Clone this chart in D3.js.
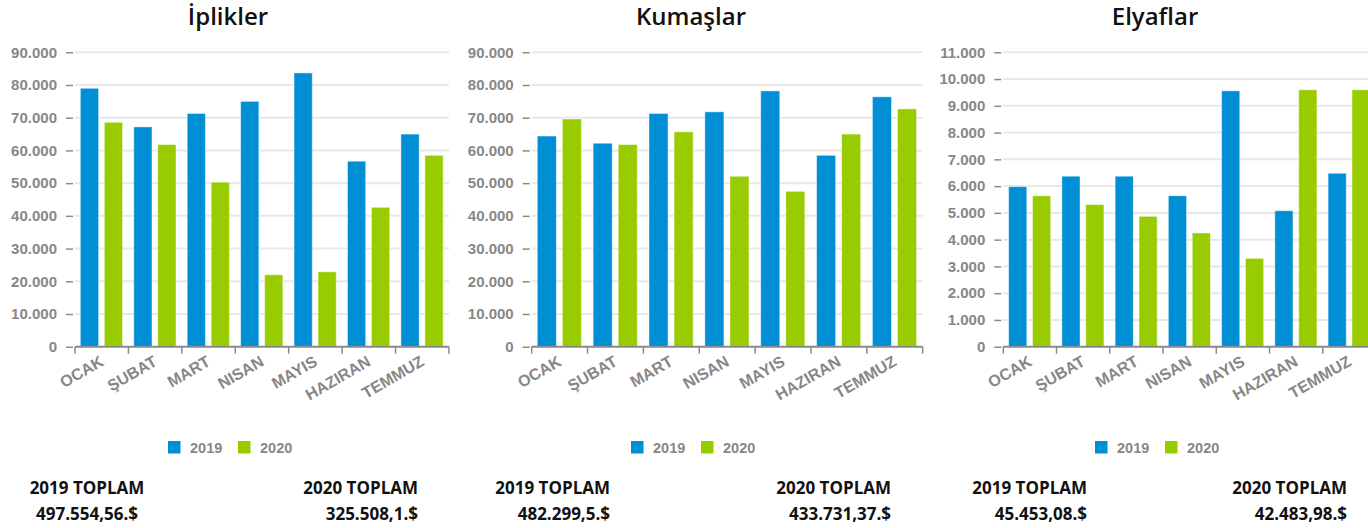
<!DOCTYPE html>
<html>
<head>
<meta charset="utf-8">
<script src="https://cdn.jsdelivr.net/npm/d3@7"></script>
<style>
  body { margin: 0; background: #fff; overflow: hidden; }
  svg { display: block; }
  .title { font-family: "Open Sans", sans-serif; font-size: 24px; font-weight: 600; fill: #111; }
  .tick text { font-family: "Liberation Sans", Arial, sans-serif; font-weight: bold; font-size: 15px; fill: #878787; }
  .legend text { font-family: "Liberation Sans", Arial, sans-serif; font-weight: bold; font-size: 14.5px; fill: #878787; }
  .total { font-family: "Open Sans", sans-serif; font-weight: 700; font-size: 17px; fill: #111; }
</style>
</head>
<body>
<svg id="chart" width="1368" height="528"></svg>
<script>
const months = ["OCAK", "ŞUBAT", "MART", "NISAN", "MAYIS", "HAZIRAN", "TEMMUZ"];
const years = ["2019", "2020"];

const iplikler2019 = [79000, 67200, 71300, 75000, 83700, 56700, 65000];
const iplikler2020 = [68600, 61800, 50300, 22000, 22900, 42600, 58500];
const kumaslar2019 = [64400, 62200, 71300, 71800, 78200, 58500, 76400];
const kumaslar2020 = [69600, 61800, 65700, 52100, 47500, 65000, 72700];
const elyaflar2019 = [5980, 6370, 6370, 5640, 9560, 5080, 6480];
const elyaflar2020 = [5640, 5310, 4870, 4250, 3300, 9600, 9600];

const titles = ["İplikler", "Kumaşlar", "Elyaflar"];
const yMax = [90000, 90000, 11000];
const yStep = [10000, 10000, 1000];
const totalLabels = ["2019 TOPLAM", "2020 TOPLAM"];
const totals2019 = ["497.554,56.$", "482.299,5.$", "45.453,08.$"];
const totals2020 = ["325.508,1.$", "433.731,37.$", "42.483,98.$"];

const colors = { "2019": "#008fd5", "2020": "#99cc00" };

// layout of each panel (pixels)
const panels = [
  { left: 75,    right: 449,  titleX: 228,  t1: { x: 87,   anchor: "middle" }, t2: { x: 418,  anchor: "end" } },
  { left: 531.7, right: 922.7, titleX: 691, t1: { x: 610,  anchor: "end" },    t2: { x: 891,  anchor: "end" } },
  { left: 1003.3, right: 1376, titleX: 1155, t1: { x: 1087, anchor: "end" },   t2: { x: 1347, anchor: "end" } }
];
const series = [
  [iplikler2019, iplikler2020],
  [kumaslar2019, kumaslar2020],
  [elyaflar2019, elyaflar2020]
];

const locale = d3.formatLocale({ decimal: ",", thousands: ".", grouping: [3], currency: ["", "$"] });
const fmt = locale.format(",d");

const svg = d3.select("#chart");
const yTop = 52.3, yBottom = 346.7;

panels.forEach((p, i) => {
  const g = svg.append("g");

  const x0 = d3.scaleBand().domain(months).range([p.left, p.right]).padding(0);
  const x1 = d3.scaleBand().domain(years)
    .range([x0.bandwidth() * 0.1, x0.bandwidth() * 0.89])
    .paddingInner(0.24);
  const y = d3.scaleLinear().domain([0, yMax[i]]).range([yBottom, yTop]);
  const ticks = d3.range(0, yMax[i] + 1, yStep[i]);

  // title
  g.append("text").attr("class", "title")
    .attr("x", p.titleX).attr("y", 25)
    .attr("text-anchor", "middle")
    .text(titles[i]);

  // gridlines
  g.append("g").selectAll("line")
    .data(ticks.slice(1))
    .join("line")
    .attr("x1", p.left).attr("x2", p.right)
    .attr("y1", d => y(d)).attr("y2", d => y(d))
    .attr("stroke", "#e8e8e8").attr("stroke-width", 2);

  // y axis
  const yAxis = g.append("g")
    .attr("transform", `translate(${p.left - 2},0)`)
    .call(d3.axisLeft(y).tickValues(ticks).tickFormat(fmt).tickSize(7).tickPadding(9));
  yAxis.select(".domain").remove();
  yAxis.selectAll(".tick line").attr("stroke", "#8a8a8a").attr("stroke-width", 1.5);

  // bars
  const rows = months.map((m, k) => ({ month: m, values: years.map((yr, s) => ({ year: yr, value: series[i][s][k] })) }));
  g.append("g").selectAll("g")
    .data(rows)
    .join("g")
    .attr("transform", d => `translate(${x0(d.month)},0)`)
    .selectAll("rect")
    .data(d => d.values)
    .join("rect")
    .attr("x", d => x1(d.year))
    .attr("width", x1.bandwidth())
    .attr("y", d => y(d.value))
    .attr("height", d => y(0) - y(d.value))
    .attr("fill", d => colors[d.year])
    .attr("stroke", "#ffffff").attr("stroke-opacity", 0.45).attr("stroke-width", 1);

  // x axis
  const xAxis = g.append("g")
    .attr("transform", `translate(0,${yBottom})`);
  xAxis.append("line")
    .attr("x1", p.left).attr("x2", p.right)
    .attr("stroke", "#8a8a8a").attr("stroke-width", 2);
  xAxis.selectAll("line.tk")
    .data(months.map(m => x0(m)).concat([p.right]))
    .join("line").attr("class", "tk")
    .attr("x1", d => d).attr("x2", d => d)
    .attr("y1", 0).attr("y2", 7)
    .attr("stroke", "#8a8a8a").attr("stroke-width", 1.5);
  xAxis.selectAll("text")
    .data(months)
    .join("text")
    .attr("transform", d => `translate(${x0(d) + x0.bandwidth() / 2 + 3},${18}) rotate(-30)`)
    .attr("text-anchor", "end")
    .style("font-family", "'Liberation Sans', Arial, sans-serif")
    .style("font-weight", "bold")
    .style("font-size", "16px")
    .attr("fill", "#878787")
    .text(d => d);

  // legend
  const lg = g.append("g").attr("class", "legend")
    .attr("transform", `translate(${p.titleX - 60},441)`);
  years.forEach((yr, s) => {
    const off = s * 70;
    lg.append("rect").attr("x", off).attr("y", 0).attr("width", 12.5).attr("height", 12.5)
      .attr("fill", colors[yr]);
    lg.append("text").attr("x", off + 22).attr("y", 12.3).text(yr);
  });

  // totals
  [[p.t1, totalLabels[0], totals2019[i]], [p.t2, totalLabels[1], totals2020[i]]].forEach(([pos, label, val]) => {
    g.append("text").attr("class", "total")
      .attr("x", pos.x).attr("y", 494).attr("text-anchor", pos.anchor).text(label);
    g.append("text").attr("class", "total")
      .attr("x", pos.x).attr("y", 520).attr("text-anchor", pos.anchor).text(val);
  });
});
</script>
</body>
</html>
